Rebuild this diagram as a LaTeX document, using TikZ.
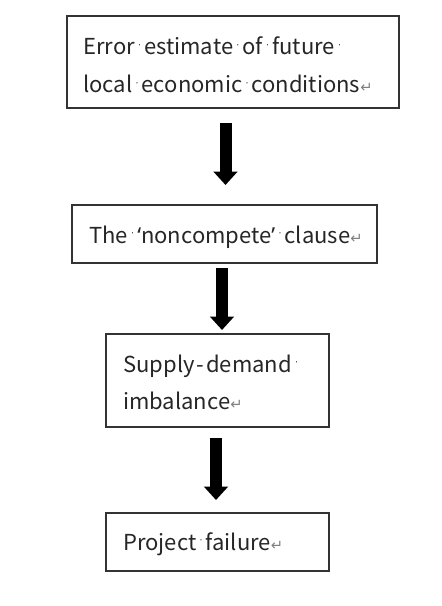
\documentclass[tikz,border=0pt]{standalone}
\usepackage{fontspec}
\setmainfont{Noto Sans CJK SC}
\newfontfamily\symfont{DejaVu Sans}
\newfontfamily\latinfont{Noto Sans}
\usetikzlibrary{arrows.meta}
\newcommand{\pmark}{{\symfont\color{gray}\fontsize{11}{11}\selectfont ↵}}
\newcommand{\sdot}{\makebox[7pt]{\raisebox{0.3em}{\symfont\fontsize{7}{7}\selectfont ·}}}
\newcommand{\myopenq}{{\latinfont ‘}}
\newcommand{\myclosq}{{\latinfont ’}}
\newcommand{\myhyph}{\kern1.5pt-\kern1.5pt}
\tikzset{
  flowbox/.style={draw=black!80, line width=0.8pt, rectangle, inner sep=0pt},
  txt/.style={anchor=base west, inner sep=0pt, text=black!85,
    font=\fontsize{16.5}{16.5}\selectfont},
  bigarrow/.style={line width=9pt, -{Triangle[width=17.5pt,length=10pt]}}
}
\begin{document}
\begin{tikzpicture}[x=0.75pt,y=-0.75pt]
\useasboundingbox (0,0) rectangle (442,606);
% boxes
\node[flowbox, minimum width=249pt, minimum height=69pt] (b1) at (233,62) {};
\node[flowbox, minimum width=228.75pt, minimum height=43.5pt] (b2) at (224.5,234) {};
\node[flowbox, minimum width=167.25pt, minimum height=69.75pt] (b3) at (217.5,380.5) {};
\node[flowbox, minimum width=167.25pt, minimum height=43.5pt] (b4) at (217.5,542) {};
% texts
\node[txt] (t1a) at (83,55) {Error\sdot estimate\sdot of\sdot future\sdot};
\node[txt] (t1b) at (83,93) {local\sdot economic\sdot conditions\pmark};
\node[txt] (t2) at (89,243) {The\sdot\myopenq noncompete\myclosq\sdot clause\pmark};
\node[txt] (t3a) at (123,372) {Supply\myhyph demand\sdot};
\node[txt] (t3b) at (123,409) {imbalance\pmark};
\node[txt] (t4) at (123,550) {Project\sdot failure\pmark};
% arrows
\coordinate (a1s) at (225.5,123); \coordinate (a1e) at (225.5,185);
\coordinate (a2s) at (222,268);   \coordinate (a2e) at (222,330);
\coordinate (a3s) at (216,438);   \coordinate (a3e) at (216,500);
\draw[bigarrow] (a1s) -- (a1e);
\draw[bigarrow] (a2s) -- (a2e);
\draw[bigarrow] (a3s) -- (a3e);
\end{tikzpicture}
\end{document}
